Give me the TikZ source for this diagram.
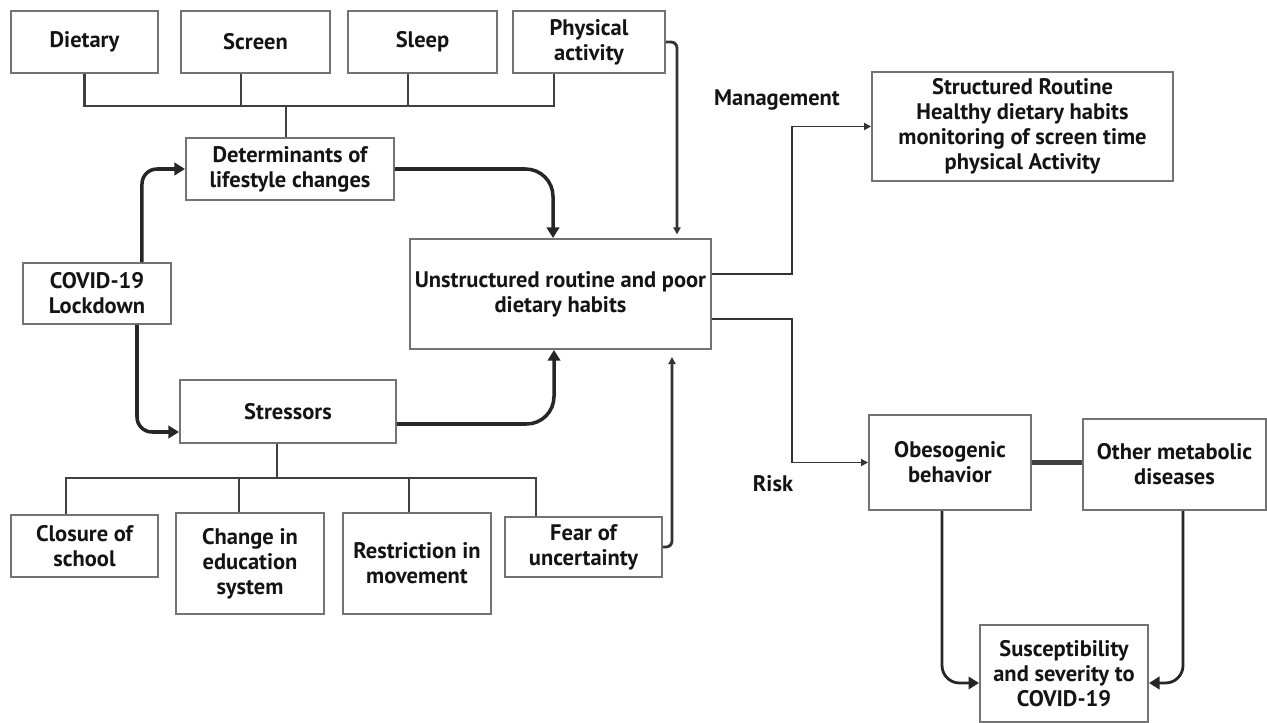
\documentclass[tikz,border=0pt]{standalone}
\usepackage{fontspec}
\setmainfont{PT Sans}
\usetikzlibrary{arrows.meta}
\begin{document}
\begin{tikzpicture}
[x=0.02cm, y=-0.02cm,
  boxdecorate/.style={shape=rectangle, draw=black!55, line width=1.1pt,
    align=center, inner sep=1pt, text=black!92,
    font=\bfseries\fontsize{12.8}{14.2}\selectfont},
  labeldecorate/.style={text=black!92, inner sep=1pt,
    font=\bfseries\fontsize{12.8}{14.2}\selectfont},
  linedecorate/.style={-, line width=1.4pt, draw=black!75},
  flowdecorate/.style={line width=2pt, draw=black!85,
    -{Triangle[length=6pt,width=7pt]}},
  thindecorate/.style={line width=1.1pt, draw=black!80,
    -{Triangle[length=4pt,width=4pt]}}]
\useasboundingbox (0,0) rectangle (1267,723);
%% boxes
\foreach \nodename/\x/\y/\w/\h/\txt in {
  diet/84.5/42/147/62/{Dietary},
  screen/255.5/42/149/62/{Screen},
  sleep/422.5/42/149/62/{Sleep},
  phys/589/42/152/62/{Physical\\activity},
  determ/290/169/208/62/{Determinants of\\lifestyle changes},
  covid/97/293.5/148/61/{COVID-19\\Lockdown},
  unstruct/560.5/294/301/110/{Unstructured routine and poor\\dietary habits},
  stress/288/411.5/216/63/{Stressors},
  closure/84.5/546/147/62/{Closure of\\school},
  change/250/563.5/148/101/{Change in\\education\\system},
  restrict/417/563.5/148/101/{Restriction in\\movement},
  fear/583.5/547/157/60/{Fear of\\uncertainty},
  struct/1022.5/126.5/301/109/{Structured Routine\\Healthy dietary habits\\monitoring of screen time\\physical Activity},
  obese/950/462.5/162/95/{Obesogenic\\behavior},
  other/1174.5/464.5/183/91/{Other metabolic\\diseases},
  suscep/1064/673.5/168/97/{Susceptibility\\and severity to\\COVID-19}} {
  \node (\nodename) at (\x,\y) [boxdecorate,
    minimum width=\w*0.02cm, minimum height=\h*0.02cm] {\txt};
}
\node (mgmt) at (777,100) [labeldecorate] {Management};
\node (risk) at (773,484) [labeldecorate] {Risk};
%% branching lines
\coordinate (topbus) at (286,106);
\coordinate (lowbus) at (277,478);
\foreach \nodename/\s in {diet/0, screen/-0.29, sleep/-0.29, phys/-0.7} {
  \draw[linedecorate] ([xshift=\s cm]\nodename.south) |- (topbus);
}
\draw[linedecorate] (topbus) -- (determ.north -| topbus);
\foreach \nodename/\s in {closure/-0.37, change/-0.22, restrict/-0.16, fear/-0.95} {
  \draw[linedecorate] ([xshift=\s cm]\nodename.north) |- (lowbus);
}
\draw[linedecorate] (lowbus) -- (stress.south -| lowbus);
%% flows
\draw[flowdecorate, rounded corners=0.3cm]
  ([xshift=0.9cm]covid.north) |- (determ.west);
\draw[flowdecorate, rounded corners=0.3cm]
  ([xshift=0.8cm]covid.south) |- ([yshift=-0.41cm]stress.west);
\draw[flowdecorate, rounded corners=0.55cm]
  (determ.east) -| ([xshift=-0.15cm]unstruct.north);
\draw[flowdecorate, rounded corners=0.55cm]
  ([yshift=-0.25cm]stress.east) -| ([xshift=-0.13cm]unstruct.south);
\draw[thindecorate, line width=1.6pt, rounded corners=0.12cm, shorten >=2pt]
  (phys.east) -| ([xshift=2.33cm]unstruct.north);
\draw[thindecorate, line width=1.6pt, rounded corners=0.12cm, shorten >=4pt]
  (fear.east) -| ([xshift=2.23cm]unstruct.south);
\draw[thindecorate] ([yshift=0.4cm]unstruct.east) -- ++(80,0) |- (struct.west);
\draw[thindecorate] ([yshift=-0.5cm]unstruct.east) -- ++(80,0) |- (obese.west);
\draw[linedecorate, line width=2.4pt] (obese.east) -- (obese.east -| other.west);
\draw[flowdecorate, line width=1.6pt, rounded corners=0.35cm]
  ([xshift=-0.16cm]obese.south) |- ([yshift=-0.19cm]suscep.west);
\draw[flowdecorate, line width=1.6pt, rounded corners=0.35cm]
  ([xshift=0.17cm]other.south) |- ([yshift=-0.19cm]suscep.east);
\end{tikzpicture}
\end{document}
